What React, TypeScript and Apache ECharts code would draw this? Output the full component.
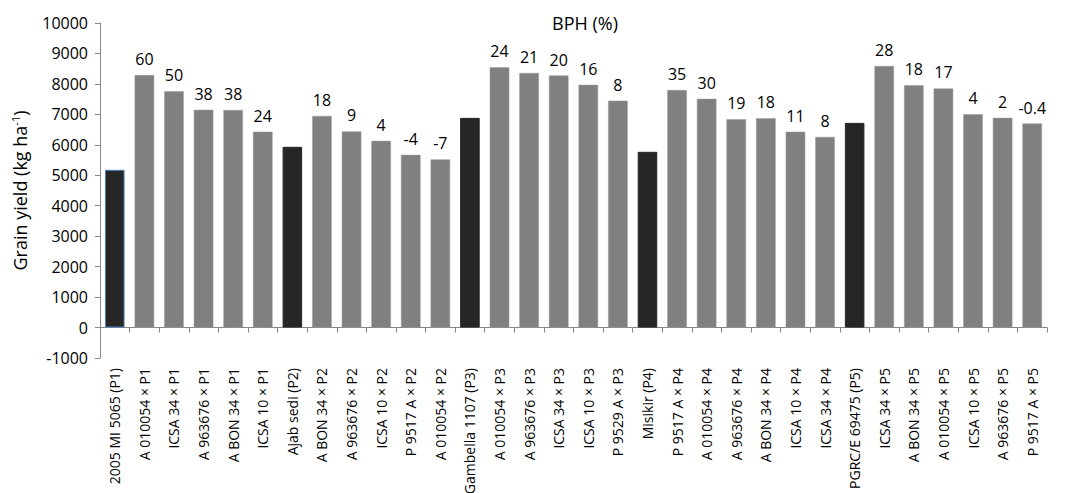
import React, { useEffect, useRef } from "react";
import * as echarts from "echarts";

const categories = [
  "2005 MI 5065 (P1)", "A 010054 × P1", "ICSA 34 × P1", "A 963676 × P1", "A BON 34 × P1", "ICSA 10 × P1",
  "Ajab sedi (P2)", "A BON 34 × P2", "A 963676 × P2", "ICSA 10 × P2", "P 9517 A × P2", "A 010054 × P2",
  "Gambella 1107 (P3)", "A 010054 × P3", "A 963676 × P3", "ICSA 34 × P3", "ICSA 10 × P3", "P 9529 A × P3",
  "Misikir (P4)", "P 9517 A × P4", "A 010054 × P4", "A 963676 × P4", "A BON 34 × P4", "ICSA 10 × P4", "ICSA 34 × P4",
  "PGRC/E 69475 (P5)", "ICSA 34 × P5", "A BON 34 × P5", "A 010054 × P5", "ICSA 10 × P5", "A 963676 × P5", "P 9517 A × P5",
];

const grainYield = [
  5180, 8290, 7760, 7150, 7140, 6430,
  5935, 6950, 6440, 6130, 5670, 5520,
  6885, 8550, 8360, 8275, 7970, 7450,
  5770, 7800, 7510, 6840, 6875, 6430, 6260,
  6720, 8590, 7960, 7850, 7005, 6885, 6700,
];

const bph: (string | null)[] = [
  null, "60", "50", "38", "38", "24",
  null, "18", "9", "4", "-4", "-7",
  null, "24", "21", "20", "16", "8",
  null, "35", "30", "19", "18", "11", "8",
  null, "28", "18", "17", "4", "2", "-0.4",
];

const isParent = [
  true, false, false, false, false, false,
  true, false, false, false, false, false,
  true, false, false, false, false, false,
  true, false, false, false, false, false, false,
  true, false, false, false, false, false, false,
];

const FONT = "'Open Sans', 'Noto Sans', sans-serif";

export default function App() {
  const ref = useRef<HTMLDivElement>(null);
  useEffect(() => {
    if (!ref.current) return;
    const chart = echarts.init(ref.current, null, { renderer: "svg" });
    const data = grainYield.map((v, i) => ({
      value: v,
      itemStyle: isParent[i]
        ? { color: "#262626", borderColor: i === 0 ? "#4f81bd" : "#262626", borderWidth: 1 }
        : { color: "#808080", borderColor: "#9a9a9a", borderWidth: 0.5 },
      label: { show: bph[i] !== null, formatter: bph[i] ?? "" },
    }));
    chart.setOption({
      animation: false,
      title: {
        text: "BPH (%)",
        left: 572,
        textAlign: "center",
        top: 1,
        textStyle: { fontFamily: FONT, fontSize: 18, fontWeight: "normal", color: "#000" },
      },
      grid: { left: 92, right: 17, top: 15, bottom: 135, containLabel: false, outerBoundsMode: "none" },
      xAxis: {
        type: "category",
        data: categories,
        boundaryGap: true,
        axisLine: { onZero: true, lineStyle: { color: "#868686", width: 1 } },
        axisTick: { show: true, alignWithLabel: false, length: 5, lineStyle: { color: "#868686" } },
        axisLabel: {
          rotate: 90,
          interval: 0,
          margin: 10,
          fontFamily: FONT,
          fontSize: 14,
          color: "#000",
        },
      },
      yAxis: {
        type: "value",
        min: -1000,
        max: 10000,
        interval: 1000,
        name: "Grain yield (kg ha{sup|-1})",
        nameLocation: "middle",
        nameGap: 70,
        nameRotate: 90,
        nameTextStyle: {
          fontFamily: FONT,
          fontSize: 18,
          color: "#000",
          rich: { sup: { fontFamily: FONT, fontSize: 11, verticalAlign: "top", padding: [0, 0, 9, 0], color: "#000" } },
        },
        splitLine: { show: false },
        axisLine: { show: true, lineStyle: { color: "#868686", width: 1 } },
        axisTick: { show: true, length: 5, lineStyle: { color: "#868686" } },
        axisLabel: {
          fontFamily: FONT,
          fontSize: 16,
          color: "#000",
          margin: 12,
          formatter: (v: number) => String(v),
        },
      },
      series: [
        {
          type: "bar",
          data,
          barCategoryGap: "34%",
          label: {
            position: "top",
            distance: 8,
            fontFamily: FONT,
            fontSize: 16,
            color: "#000",
          },
        },
      ],
    });
    return () => chart.dispose();
  }, []);
  return <div ref={ref} style={{ width: 1056, height: 485 }} />;
}
